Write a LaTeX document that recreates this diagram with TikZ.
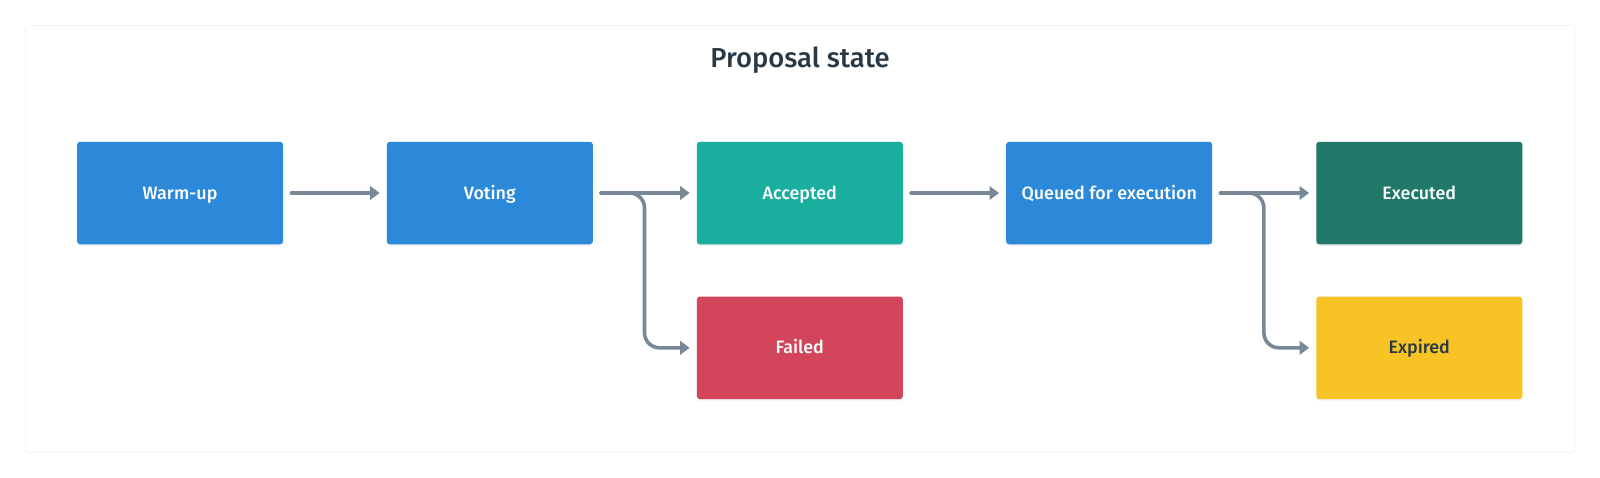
\documentclass[tikz,border=0pt]{standalone}
\usepackage{fontspec}
\setmainfont{Fira Sans Medium}
\usetikzlibrary{arrows.meta,shadows}
\definecolor{cblue}{HTML}{2C88D9}
\definecolor{cteal}{HTML}{1AAE9F}
\definecolor{cred}{HTML}{D3455B}
\definecolor{cgreen}{HTML}{207868}
\definecolor{cyellow}{HTML}{F7C325}
\definecolor{cdark}{HTML}{293845}
\definecolor{cline}{HTML}{788896}
\definecolor{cframe}{HTML}{F4F4F4}
\tikzset{
  statebox/.style={rounded corners=3pt, minimum width=206pt, minimum height=102.5pt,
    inner sep=0pt, text=white, font=\fontsize{17.9}{21}\selectfont,
    text height=12.3pt, text depth=0pt,
    drop shadow={opacity=0.12, shadow xshift=0pt, shadow yshift=-1.5pt}},
  arr/.style={draw=cline, line width=3.6pt, line cap=round,
    -{Triangle[length=9.5pt,width=13.5pt]}},
  titletext/.style={text=cdark, font=\fontsize{27.4}{32}\selectfont,
    text height=18.9pt, text depth=0pt}
}
\begin{document}
\begin{tikzpicture}[x=1pt,y=-1pt]
\useasboundingbox (0,0) rectangle (1600,477);
\fill[white] (0,0) rectangle (1600,477);
\draw[cframe, fill=white, line width=1pt, rounded corners=2pt] (25.5,25.5) rectangle (1574.5,452);
\node[titletext] (title) at (800,58) {Proposal state};
\node[statebox, fill=cblue] (warm) at (180.1,193) {Warm-up};
\node[statebox, fill=cblue] (vote) at (489.8,193) {Voting};
\node[statebox, fill=cteal] (acc) at (799.8,193) {Accepted};
\node[statebox, fill=cred] (fail) at (799.8,347.8) {Failed};
\node[statebox, fill=cblue] (queue) at (1109.2,193) {Queued for execution};
\node[statebox, fill=cgreen] (exec) at (1419.3,193) {Executed};
\node[statebox, fill=cyellow, text=cdark] (expi) at (1419.3,347.8) {Expired};
\draw[arr] ([xshift=8pt]warm.east) -- ([xshift=-7pt]vote.west);
\draw[arr] ([xshift=8pt]vote.east) -- ([xshift=-7pt]acc.west);
\draw[arr, rounded corners=15pt] ([xshift=8pt]vote.east) -- ++(43.5,0) |- ([xshift=-7pt]fail.west);
\draw[arr] ([xshift=8pt]acc.east) -- ([xshift=-7pt]queue.west);
\draw[arr] ([xshift=8pt]queue.east) -- ([xshift=-7pt]exec.west);
\draw[arr, rounded corners=15pt] ([xshift=8pt]queue.east) -- ++(43.5,0) |- ([xshift=-7pt]expi.west);
\end{tikzpicture}
\end{document}
